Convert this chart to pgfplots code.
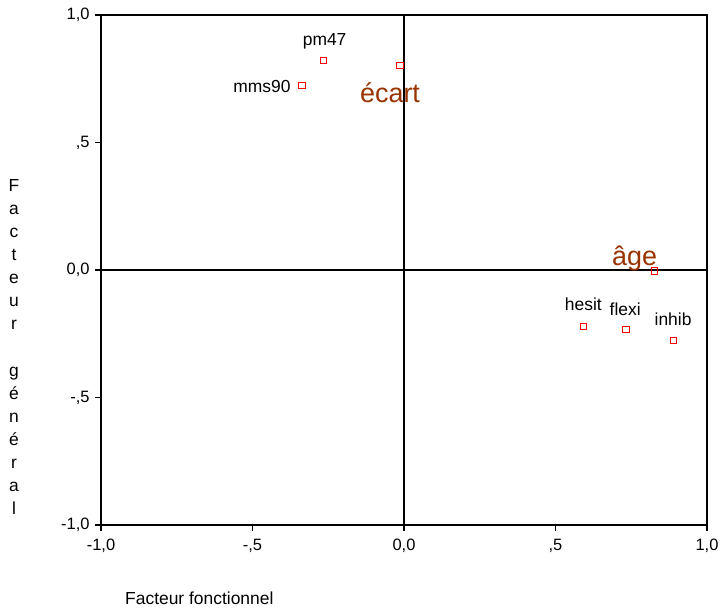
\documentclass[border=0pt]{standalone}
\usepackage{pgfplots}
\pgfplotsset{compat=1.18}
\usepackage{fontspec}
\setmainfont{Liberation Sans}
\definecolor{brn}{RGB}{153,51,0}
\begin{document}
\begin{tikzpicture}[x=1bp,y=1bp]
\useasboundingbox (0,0) rectangle (720,611);
\begin{axis}[
  at={(101bp,86bp)}, anchor=south west,
  scale only axis, width=606bp, height=510bp,
  xmin=-1, xmax=1, ymin=-1, ymax=1,
  xtick={-1,-0.5,0,0.5,1}, ytick={-1,-0.5,0,0.5,1},
  xticklabels={{-1,0},{-,5},{0,0},{,5},{1,0}},
  yticklabels={{-1,0},{-,5},{0,0},{,5},{1,0}},
  xtick pos=bottom, ytick pos=left, tick align=outside,
  major tick length=6bp,
  tick style={black, line width=1.2bp},
  axis line style={black, line width=1.1bp},
  ticklabel style={font=\fontsize{16.5}{19}\selectfont},
  xticklabel style={yshift=-5bp},
  yticklabel style={xshift=-2bp},
  clip=false,
]
\addplot[black, line width=1.3bp, forget plot] coordinates {(0,-1) (0,1)};
\addplot[black, line width=1.3bp, forget plot] coordinates {(-1,0) (1,0)};
\addplot[only marks, mark=square, mark size=3.2bp, draw=red, mark options={draw=red, line width=1bp, fill=white}] coordinates {
  (-0.336,0.723) (-0.266,0.821) (-0.013,0.801) (0.827,-0.004) (0.592,-0.222) (0.733,-0.234) (0.889,-0.276)};
\begin{scope}[every node/.style={font=\fontsize{17.5}{20}\selectfont, inner sep=0pt}]
\node[anchor=base] at (axis cs:-0.262,0.880) {pm47};
\node[anchor=base east] at (axis cs:-0.374,0.696) {mms90};
\node[anchor=base] at (axis cs:0.592,-0.159) {hesit};
\node[anchor=base] at (axis cs:0.730,-0.180) {flexi};
\node[anchor=base] at (axis cs:0.888,-0.216) {inhib};
\end{scope}
\node[anchor=base, inner sep=0pt, text=brn, font=\fontsize{27}{30}\selectfont] at (axis cs:-0.046,0.656) {écart};
\node[anchor=base, inner sep=0pt, text=brn, font=\fontsize{27}{30}\selectfont] at (axis cs:0.761,0.017) {âge};
\end{axis}
\node[anchor=base west, inner sep=0pt, font=\fontsize{17.5}{20}\selectfont] at (125,6) {Facteur fonctionnel};
\node[anchor=center, inner sep=0pt, align=center, font=\fontsize{17.5}{23.2}\selectfont] at (14,264) {F\\a\\c\\t\\e\\u\\r\\\mbox{}\\g\\é\\n\\é\\r\\a\\l};
\end{tikzpicture}
\end{document}
